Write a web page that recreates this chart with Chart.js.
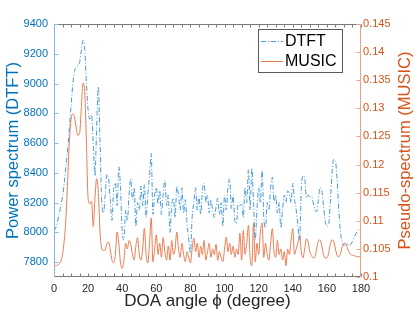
<!DOCTYPE html>
<html>
<head>
<meta charset="utf-8">
<title>DTFT vs MUSIC</title>
<script src="https://cdn.jsdelivr.net/npm/chart.js@4.4.1/dist/chart.umd.min.js"></script>
<style>
  html, body { margin: 0; padding: 0; background: #fff; }
  #wrap { width: 415px; height: 315px; }
</style>
</head>
<body>
<div id="wrap"><canvas id="chart" width="415" height="315"></canvas></div>
<script>
// DOA angles in degrees (1 degree grid)
const angles = [
  0, 1, 2, 3, 4, 5, 6, 7, 8, 9, 10, 11, 12, 13, 14, 15, 16, 17, 18, 19,
  20, 21, 22, 23, 24, 25, 26, 27, 28, 29, 30, 31, 32, 33, 34, 35, 36, 37, 38, 39,
  40, 41, 42, 43, 44, 45, 46, 47, 48, 49, 50, 51, 52, 53, 54, 55, 56, 57, 58, 59,
  60, 61, 62, 63, 64, 65, 66, 67, 68, 69, 70, 71, 72, 73, 74, 75, 76, 77, 78, 79,
  80, 81, 82, 83, 84, 85, 86, 87, 88, 89, 90, 91, 92, 93, 94, 95, 96, 97, 98, 99,
  100, 101, 102, 103, 104, 105, 106, 107, 108, 109, 110, 111, 112, 113, 114, 115, 116, 117, 118, 119,
  120, 121, 122, 123, 124, 125, 126, 127, 128, 129, 130, 131, 132, 133, 134, 135, 136, 137, 138, 139,
  140, 141, 142, 143, 144, 145, 146, 147, 148, 149, 150, 151, 152, 153, 154, 155, 156, 157, 158, 159,
  160, 161, 162, 163, 164, 165, 166, 167, 168, 169, 170, 171, 172, 173, 174, 175, 176, 177, 178, 179,
  180
];

// power spectrum (DTFT), left axis
const dtft = [
  8010, 8030, 8070, 8120, 8180, 8240, 8330, 8440, 8560, 8700,
  8850, 8990, 9080, 9110, 9120, 9140, 9220, 9290, 9230, 9000,
  8820, 8760, 8790, 8600, 8380, 8700, 8980, 8600, 8200, 8130,
  8250, 8390, 8360, 8220, 8080, 8300, 8330, 8180, 8440, 8300,
  8000, 7950, 8150, 8080, 8250, 8360, 8220, 8300, 8040, 8200,
  8150, 8310, 8180, 8320, 8100, 8250, 8380, 8530, 8120, 8250,
  8300, 8190, 8280, 8120, 8260, 8350, 8180, 8250, 8000, 8180,
  8230, 8100, 8310, 8250, 8150, 8300, 8130, 8220, 8060, 7950,
  7860, 8100, 8200, 8300, 8150, 8240, 8120, 8280, 8330, 8200,
  8250, 8130, 8220, 8150, 8100, 8170, 8230, 8120, 8200, 8040,
  8250, 8150, 8300, 8360, 8160, 8250, 8080, 8060, 8200, 8180,
  8190, 8100, 8300, 8200, 8420, 8150, 8430, 8200, 7950, 8150,
  8300, 8200, 8420, 8100, 8030, 8200, 8150, 8300, 8370, 8200,
  8250, 8130, 8200, 8030, 8150, 8250, 8200, 8280, 8260, 8200,
  8330, 8220, 8150, 8050, 7950, 8300, 8380, 8360, 8230, 8250,
  8240, 8240, 8200, 8150, 8140, 8220, 8300, 8280, 8180, 8080,
  8040, 8050, 8200, 8400, 8490, 8480, 8350, 8150, 8000, 7930,
  7910, 7920, 7920, 7910, 7920, 7940, 7970, 7990, 8010, 8020,
  8030
];

// pseudo-spectrum (MUSIC), right axis
const music = [
  0.1020, 0.1020, 0.1021, 0.1023, 0.1028, 0.1040, 0.1065, 0.1105, 0.1170, 0.1240,
  0.1280, 0.1290, 0.1285, 0.1265, 0.1252, 0.1255, 0.1300, 0.1345, 0.1330, 0.1240,
  0.1140, 0.1130, 0.1135, 0.1090, 0.1140, 0.1175, 0.1150, 0.1080, 0.1050, 0.1047,
  0.1048, 0.1060, 0.1062, 0.1048, 0.1030, 0.1025, 0.1040, 0.1080, 0.1060, 0.1025,
  0.1015, 0.1030, 0.1060, 0.1050, 0.1065, 0.1058, 0.1040, 0.1030, 0.1055, 0.1070,
  0.1040, 0.1030, 0.1050, 0.1087, 0.1040, 0.1025, 0.1060, 0.1105, 0.1027, 0.1050,
  0.1075, 0.1040, 0.1060, 0.1035, 0.1070, 0.1045, 0.1030, 0.1055, 0.1030, 0.1065,
  0.1040, 0.1050, 0.1080, 0.1050, 0.1035, 0.1060, 0.1040, 0.1027, 0.1045, 0.1035,
  0.1025, 0.1050, 0.1069, 0.1045, 0.1060, 0.1035, 0.1055, 0.1040, 0.1065, 0.1030,
  0.1045, 0.1060, 0.1035, 0.1050, 0.1040, 0.1058, 0.1030, 0.1045, 0.1035, 0.1027,
  0.1050, 0.1071, 0.1045, 0.1060, 0.1040, 0.1055, 0.1035, 0.1050, 0.1040, 0.1078,
  0.1030, 0.1083, 0.1040, 0.1060, 0.1092, 0.1035, 0.1020, 0.1095, 0.1027, 0.1060,
  0.1040, 0.1080, 0.1096, 0.1035, 0.1060, 0.1040, 0.1030, 0.1060, 0.1086, 0.1045,
  0.1035, 0.1065, 0.1040, 0.1050, 0.1030, 0.1045, 0.1020, 0.1050, 0.1040, 0.1065,
  0.1086, 0.1040, 0.1050, 0.1060, 0.1075, 0.1045, 0.1034, 0.1050, 0.1068, 0.1062,
  0.1045, 0.1038, 0.1034, 0.1036, 0.1050, 0.1064, 0.1066, 0.1055, 0.1040, 0.1034,
  0.1034, 0.1042, 0.1058, 0.1066, 0.1063, 0.1050, 0.1038, 0.1036, 0.1042, 0.1054,
  0.1060, 0.1060, 0.1052, 0.1044, 0.1040, 0.1039, 0.1038, 0.1037, 0.1036, 0.1036,
  0.1036
];

const seriesNames = ['DTFT', 'MUSIC'];
const xTitle = 'DOA angle \u03D5 (degree)';
const leftTitle = 'Power spectrum (DTFT)';
const rightTitle = 'Pseudo-spectrum (MUSIC)';

const BLUE = '#0072BD';
const ORANGE = '#D95319';
const FONT = "'Liberation Sans', Arial, Helvetica, sans-serif";

Chart.defaults.font.family = FONT;
Chart.defaults.font.size = 11;
Chart.defaults.animation = false;

// box around the plot with inward tick marks (MATLAB style)
const framePlugin = {
  id: 'frame',
  afterDatasetsDraw(chart) {
    const { ctx, chartArea: a, scales } = chart;
    const L = Math.round(a.left) + 0.5, R = Math.round(a.right) - 0.5;
    const T = Math.round(a.top) + 0.5, B = Math.round(a.bottom) - 0.5;
    ctx.save();
    ctx.lineWidth = 1;

    // top + bottom
    ctx.strokeStyle = '#7a7a7a';
    ctx.beginPath();
    ctx.moveTo(L, T); ctx.lineTo(R, T);
    ctx.moveTo(L, B); ctx.lineTo(R, B);
    for (let v = 0; v <= 180; v += 5) {
      const px = Math.round(scales.x.getPixelForValue(v)) + 0.5;
      ctx.moveTo(px, B); ctx.lineTo(px, B - 3);
      ctx.moveTo(px, T); ctx.lineTo(px, T + 3);
    }
    ctx.stroke();

    // left axis
    ctx.strokeStyle = '#86b9e0';
    ctx.beginPath();
    ctx.moveTo(L, T); ctx.lineTo(L, B);
    for (let v = 7800; v <= 9400; v += 200) {
      const py = Math.round(scales.y.getPixelForValue(v)) + 0.5;
      ctx.moveTo(L, py); ctx.lineTo(L + 4, py);
    }
    ctx.stroke();

    // right axis
    ctx.strokeStyle = '#eea383';
    ctx.beginPath();
    ctx.moveTo(R, T); ctx.lineTo(R, B);
    for (let i = 0; i <= 9; i++) {
      const py = Math.round(scales.y1.getPixelForValue(0.1 + i * 0.005)) + 0.5;
      ctx.moveTo(R, py); ctx.lineTo(R - 4, py);
    }
    ctx.stroke();
    ctx.restore();
  }
};

// right axis title reads bottom-to-top, like the left one
const rightTitlePlugin = {
  id: 'rightTitle',
  afterDraw(chart) {
    const { ctx, chartArea: a } = chart;
    ctx.save();
    ctx.translate(405, (a.top + a.bottom) / 2);
    ctx.rotate(-Math.PI / 2);
    ctx.font = '16.5px ' + FONT;
    ctx.fillStyle = ORANGE;
    ctx.textAlign = 'center';
    ctx.textBaseline = 'middle';
    ctx.fillText(rightTitle, 0, 0);
    ctx.restore();
  }
};

// legend box in the upper right of the plot
const legendPlugin = {
  id: 'boxLegend',
  afterDraw(chart) {
    const { ctx } = chart;
    const x0 = 258.5, y0 = 29.5, w = 84, h = 43;
    ctx.save();
    ctx.fillStyle = '#fff';
    ctx.fillRect(x0, y0, w, h);
    ctx.strokeStyle = '#5a5a5a';
    ctx.lineWidth = 1;
    ctx.strokeRect(x0, y0, w, h);
    ctx.font = '16px ' + FONT;
    ctx.textBaseline = 'middle';
    chart.data.datasets.forEach((ds, i) => {
      const cy = 41 + i * 20;
      ctx.beginPath();
      ctx.strokeStyle = ds.borderColor;
      ctx.lineWidth = ds.borderWidth;
      ctx.setLineDash(ds.borderDash || []);
      ctx.moveTo(261, cy + 0.5);
      ctx.lineTo(283, cy + 0.5);
      ctx.stroke();
      ctx.setLineDash([]);
      ctx.fillStyle = '#000';
      ctx.fillText(ds.label, 285, cy + 1);
    });
    ctx.restore();
  }
};

const ctx = document.getElementById('chart');
new Chart(ctx, {
  type: 'line',
  data: {
    datasets: [
      {
        label: seriesNames[0],
        data: angles.map((a, i) => ({ x: a, y: dtft[i] })),
        yAxisID: 'y',
        borderColor: '#4a9ad6',
        borderWidth: 1,
        borderDash: [5, 2, 1, 2],
        pointRadius: 0,
        cubicInterpolationMode: 'monotone',
        fill: false
      },
      {
        label: seriesNames[1],
        data: angles.map((a, i) => ({ x: a, y: music[i] })),
        yAxisID: 'y1',
        borderColor: '#ea7c50',
        borderWidth: 1,
        pointRadius: 0,
        cubicInterpolationMode: 'monotone',
        fill: false
      }
    ]
  },
  options: {
    responsive: false,
    maintainAspectRatio: false,
    layout: { padding: { top: 24, left: 0, right: 0, bottom: 0 } },
    plugins: {
      legend: { display: false },
      tooltip: { enabled: false }
    },
    scales: {
      x: {
        type: 'linear',
        position: 'bottom',
        min: 0,
        max: 180,
        afterFit: s => { s.height = 38; },
        grid: { display: false, drawTicks: false },
        border: { display: false },
        ticks: { stepSize: 20, color: '#262626', padding: 5, maxRotation: 0 },
        title: {
          display: true, text: xTitle, color: '#262626',
          font: { size: 17 }, padding: { top: 0, bottom: 3 }
        }
      },
      y: {
        type: 'linear',
        position: 'left',
        min: 7700,
        max: 9400,
        afterFit: s => { s.width = 54; },
        grid: { display: false, drawTicks: false },
        border: { display: false },
        ticks: {
          stepSize: 200,
          color: BLUE,
          padding: 6,
          callback: v => (v % 200 === 0 ? String(Math.round(v)) : null)
        },
        title: {
          display: true, text: leftTitle, color: BLUE,
          font: { size: 16.5 }, padding: { top: 4, bottom: 0 }
        }
      },
      y1: {
        type: 'linear',
        position: 'right',
        min: 0.1,
        max: 0.145,
        afterFit: s => { s.width = 54; },
        grid: { display: false, drawTicks: false },
        border: { display: false },
        ticks: {
          stepSize: 0.005,
          color: ORANGE,
          padding: 2,
          callback: v => String(parseFloat(v.toFixed(4)))
        },
        title: { display: false }
      }
    }
  },
  plugins: [framePlugin, rightTitlePlugin, legendPlugin]
});
</script>
</body>
</html>
